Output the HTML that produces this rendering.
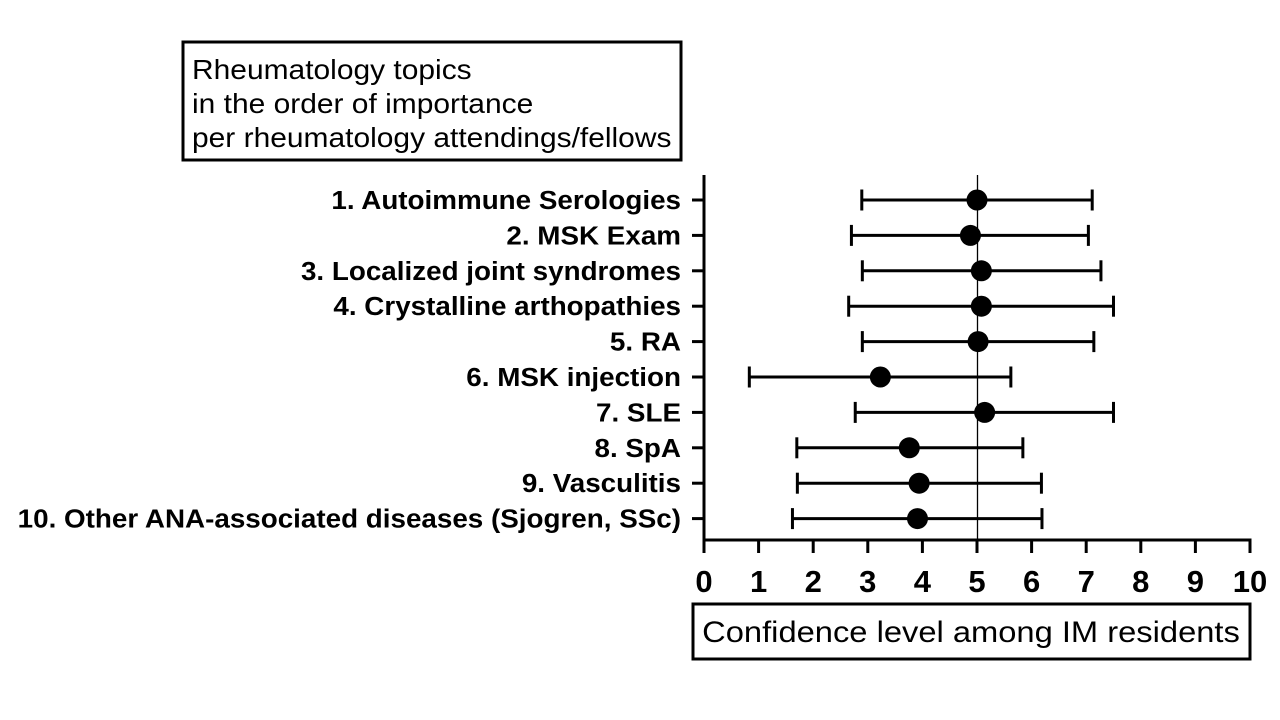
<!DOCTYPE html>
<html><head><meta charset="utf-8"><style>
body{margin:0;background:#fff;}
svg{display:block;font-family:"Liberation Sans",Arial,sans-serif;}
</style></head><body>
<svg id="chart" width="1280" height="720" viewBox="0 0 1280 720">
<rect x="183" y="42" width="498" height="118" fill="none" stroke="#000" stroke-width="3"/>
<g font-size="28" fill="#000" transform="translate(192,0) scale(1.07,1)">
<text x="0" y="79">Rheumatology topics</text>
<text x="0" y="113">in the order of importance</text>
<text x="0" y="147">per rheumatology attendings/fellows</text>
</g>
<rect x="693" y="604" width="557" height="55" fill="none" stroke="#000" stroke-width="3"/>
<g transform="translate(971,0) scale(1.09,1)"><text x="0" y="642" font-size="30" text-anchor="middle">Confidence level among IM residents</text></g>
<g id="plot"></g>
</svg>
<script>
const categories=["1. Autoimmune Serologies","2. MSK Exam","3. Localized joint syndromes","4. Crystalline arthopathies","5. RA","6. MSK injection","7. SLE","8. SpA","9. Vasculitis","10. Other ANA-associated diseases (Sjogren, SSc)"];
const means=[5.0,4.88,5.08,5.08,5.02,3.23,5.14,3.76,3.94,3.91];
const lows=[2.89,2.70,2.90,2.65,2.90,0.83,2.77,1.70,1.71,1.62];
const highs=[7.11,7.04,7.27,7.50,7.14,5.62,7.50,5.84,6.18,6.19];
const xTicks=[0,1,2,3,4,5,6,7,8,9,10];
const refValue=5;
const NS="http://www.w3.org/2000/svg";
const g=document.getElementById('plot');
const x0=704,x1=1250,yTop=175,yBot=540,row0=200,rowStep=35.4;
function xs(v){return x0+(v-0)/(10-0)*(x1-x0);}
function ys(i){return row0+i*rowStep;}
function mk(t,a,p){const e=document.createElementNS(NS,t);for(const k in a)e.setAttribute(k,a[k]);(p||g).appendChild(e);return e;}
let e;
e=mk('line',{x1:Math.round(xs(refValue))+0.5,x2:Math.round(xs(refValue))+0.5,y1:yTop,y2:yBot,stroke:'#000','stroke-width':1.3});


e=mk('line',{x1:x0,x2:x0,y1:yTop,y2:yBot+1.5,stroke:'#000','stroke-width':3});


e=mk('line',{x1:x0-1.5,x2:x1+1.5,y1:yBot,y2:yBot,stroke:'#000','stroke-width':3});


xTicks.forEach(t=>{
  e=mk('line',{x1:xs(t),x2:xs(t),y1:yBot,y2:yBot+13,stroke:'#000','stroke-width':3});
  
  
  e=mk('text',{x:xs(t),y:yBot+52,'font-size':31,'font-weight':'bold','text-anchor':'middle'});
  e.textContent=t;
  
  
});
categories.forEach((c,i)=>{
  const y=ys(i);
  e=mk('line',{x1:x0-12,x2:x0,y1:y,y2:y,stroke:'#000','stroke-width':3});
  
  
  const wrap=mk('g',{transform:'translate(681,0) scale(1.07,1)'});
  e=mk('text',{x:0,y:y+9,'font-size':26,'font-weight':'bold','text-anchor':'end'},wrap);
  e.textContent=c;
  
  
  e=mk('line',{x1:xs(lows[i]),x2:xs(highs[i]),y1:y,y2:y,stroke:'#000','stroke-width':3});
  
  
  [lows[i],highs[i]].forEach(v=>{
    e=mk('line',{x1:xs(v),x2:xs(v),y1:y-10.5,y2:y+10.5,stroke:'#000','stroke-width':3});
    
    
  });
  e=mk('circle',{cx:xs(means[i]),cy:y,r:10.5,fill:'#000'});
  
  
});
</script>
</body></html>
